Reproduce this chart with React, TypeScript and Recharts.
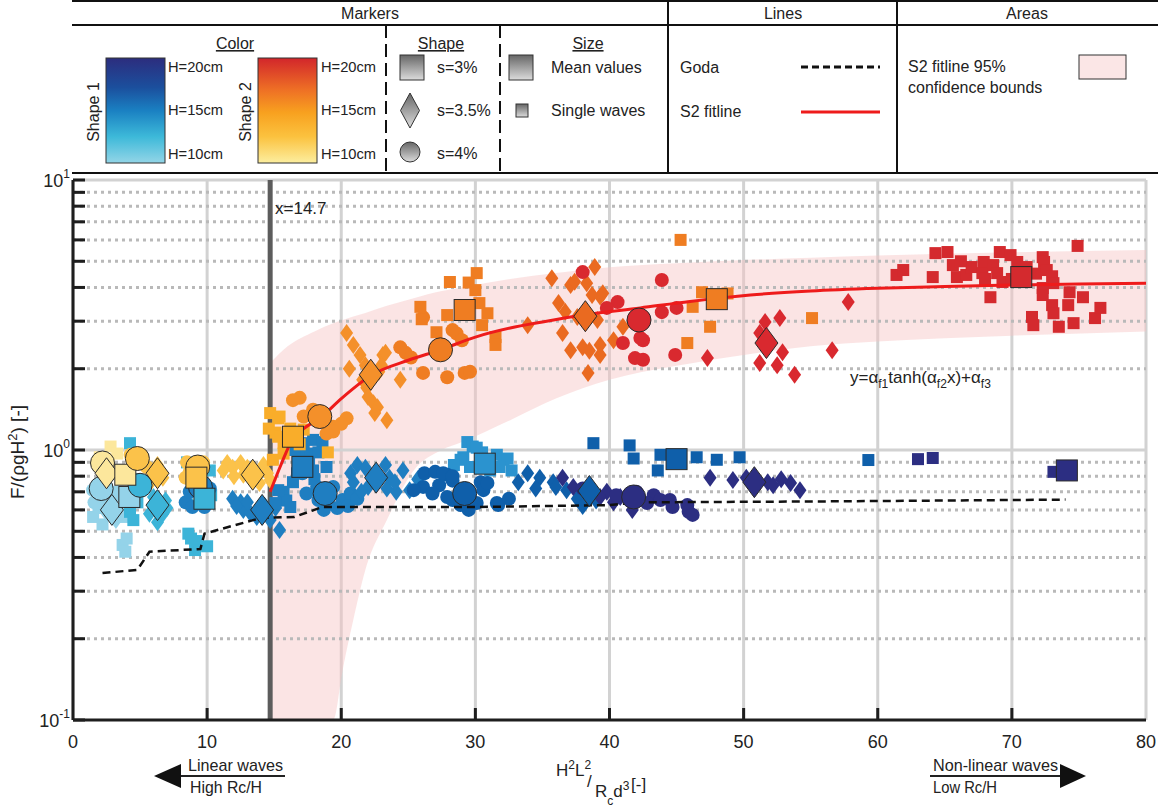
import React from 'react';
import {
  ComposedChart,
  Scatter,
  Line,
  Area,
  XAxis,
  YAxis,
  CartesianGrid,
  ReferenceLine
} from 'recharts';

type Pt = [number, number];

const FONT = "'Liberation Sans', Arial, sans-serif";
const NARROW = "'Liberation Sans Narrow', 'Arial Narrow', 'Liberation Sans', Arial, sans-serif";

// axis ticks
const xTicks = [0, 10, 20, 30, 40, 50, 60, 70, 80];
const yTicks = [0.1, 0.2, 0.3, 0.4, 0.5, 0.6, 0.7, 0.8, 0.9, 1, 2, 3, 4, 5, 6, 7, 8, 9, 10];
const yMajor = [1, 10];
const yMinor = [0.2, 0.3, 0.4, 0.5, 0.6, 0.7, 0.8, 0.9, 2, 3, 4, 5, 6, 7, 8, 9];
const thresholdX = 14.7;

// S2 fit line and its 95% confidence band
const fitLine: Pt[] = [
  [14.7, 0.7], [15.5, 0.88], [16.3, 1.08], [17.2, 1.2], [18.4, 1.31], [20, 1.55], [22.3, 1.9],
  [25, 2.15], [27.4, 2.35], [30, 2.62], [32.6, 2.83], [35, 2.98], [38, 3.16], [42.3, 3.36],
  [46, 3.55], [50.5, 3.75], [55, 3.88], [60, 3.97], [65, 4.03], [70, 4.08], [75, 4.12], [80, 4.15]
];
const bandX = [14.7, 16, 18, 19.4, 20.1, 20.9, 21.8, 23.4, 25.4, 27.5, 29, 32.6, 36, 40, 45, 50, 55, 60, 70, 80];
const bandLow = [0.1, 0.1, 0.1, 0.1, 0.153, 0.235, 0.36, 0.55, 0.84, 1.0, 1.07, 1.29, 1.55, 1.82, 2.05, 2.25, 2.42, 2.52, 2.65, 2.75];
const bandHigh = [2.1, 2.42, 2.75, 2.95, 3.03, 3.12, 3.22, 3.42, 3.65, 3.88, 4.0, 4.3, 4.52, 4.75, 4.92, 5.05, 5.15, 5.25, 5.4, 5.5];

// Goda prediction
const godaLine: Pt[] = [
  [2.2, 0.35], [4.8, 0.36], [5.7, 0.42], [9.5, 0.43], [9.8, 0.49], [14, 0.56], [16.5, 0.565],
  [18.6, 0.615], [30, 0.615], [40, 0.625], [42, 0.64], [56, 0.645], [74, 0.655]
];

// colour categories (shape + wave height)
const HUE: Record<string, string> = {
  b10: '#94d3e9', b12: '#3cb4d8', b14: '#2b93cf', b15: '#1f7ec1', b17: '#0f5faa', b20: '#2c2e82',
  y10: '#fce79c', y12: '#fbc24a', y15: '#f9ad2a', o16: '#f4902a', o17: '#ef7d22', o18: '#ea6a20',
  r19: '#d9292f', r20: '#d42a2e'
};

// single waves
const b10Squares: Pt[] = [[1.9, 0.61], [1.5, 0.565], [2.2, 0.53], [3.5, 0.6], [3.8, 0.565], [3.7, 0.445], [3.9, 0.42], [4.0, 0.47], [3.3, 0.7]];
const b10Circles: Pt[] = [[1.5, 0.71], [1.6, 0.64], [2.5, 0.66], [3.2, 0.68]];
const b10Diamonds: Pt[] = [[2.5, 0.585], [3.2, 0.55]];
const b12Squares: Pt[] = [[4.25, 1.06], [4.8, 0.64], [4.25, 0.59], [4.5, 0.55], [8.5, 0.9], [10.2, 0.84], [8.6, 0.49], [9.2, 0.46], [9.1, 0.426], [10, 0.44], [8.8, 0.47], [10.3, 0.68], [4.6, 0.7]];
const b12Circles: Pt[] = [[4.8, 0.774], [5.1, 0.73], [5.4, 0.76], [8.5, 0.64]];
const b12Diamonds: Pt[] = [[6.0, 0.67], [6.9, 0.65], [5.7, 0.58], [6.7, 0.58], [6.3, 0.54], [7.0, 0.61]];
const b15Circles: Pt[] = [
  [8.4, 0.64], [8.9, 0.615], [9.8, 0.615], [10, 0.67], [8.7, 0.7], [10.2, 0.72],
  [18.2, 0.73], [19.4, 0.73], [20.1, 0.653], [19.7, 0.61], [18.3, 0.653], [17.4, 0.69], [20.7, 0.69],
  [17.1, 0.82], [19.0, 0.63], [20.5, 0.62], [21.2, 0.66], [18.7, 0.6]
];
const b15Diamonds: Pt[] = [
  [11.9, 0.66], [12.5, 0.64], [12.7, 0.6], [13.2, 0.585], [13.7, 0.565], [14.7, 0.55], [15.1, 0.61],
  [14.3, 0.62], [15.4, 0.506], [12.2, 0.62], [13.0, 0.64],
  [20.7, 0.82], [21.2, 0.88], [21.8, 0.86], [22.3, 0.79], [23.3, 0.88], [23.6, 0.79], [24.6, 0.84],
  [20.9, 0.76], [22.0, 0.73], [23.4, 0.72], [24.1, 0.7], [25.1, 0.71], [25.7, 0.78], [21.5, 0.7], [24.0, 0.76]
];
const b15Squares: Pt[] = [
  [17.2, 1.06], [17.9, 1.09], [18.6, 1.07], [17.5, 0.97], [18.3, 0.98], [16.7, 0.82], [16.4, 0.76],
  [15.7, 0.7], [15.9, 0.65], [16.2, 0.615], [17.9, 0.84], [18.9, 0.865], [15.1, 0.636], [15.3, 0.71],
  [16.8, 0.95], [17.6, 0.9], [16.5, 1.0], [18.0, 0.78]
];
const b14Squares: Pt[] = [
  [29.4, 1.07], [29.8, 1.03], [30.5, 0.98], [31.6, 0.96], [32.1, 0.92], [29.1, 0.94], [29.6, 0.865],
  [31.1, 0.84], [32.4, 0.93], [32.7, 0.84], [31.8, 0.865], [28.9, 0.92], [30.1, 1.02], [28.4, 0.88]
];
const b17Circles: Pt[] = [
  [26.2, 0.82], [27, 0.83], [27.9, 0.81], [26.1, 0.73], [27.3, 0.74], [28.3, 0.77], [30.4, 0.76],
  [30.6, 0.71], [31.6, 0.636], [30.1, 0.636], [25.4, 0.71], [28.3, 0.653], [27.6, 0.82], [28.3, 0.8],
  [27.9, 0.67], [30.9, 0.755], [31.7, 0.625], [28.9, 0.625], [26.8, 0.69], [32.5, 0.66], [29.5, 0.6]
];
const b17Diamonds: Pt[] = [[33.9, 0.82], [34.8, 0.79], [35.8, 0.76], [36, 0.73], [36.8, 0.71], [37.6, 0.66], [33.2, 0.76], [34.5, 0.72], [39, 0.65], [38, 0.62]];
const b17Squares: Pt[] = [[38.8, 1.06], [41.5, 1.04], [41.8, 0.93], [43.8, 0.96], [43.6, 0.84], [46.5, 0.94], [48.0, 0.92], [49.7, 0.94], [59.3, 0.918]];
const b20Diamonds: Pt[] = [
  [36.5, 0.79], [37.3, 0.73], [39.8, 0.7], [40.8, 0.67], [41.7, 0.6], [40.3, 0.64], [39.3, 0.67], [38.5, 0.68],
  [47.5, 0.79], [49.2, 0.774], [51.8, 0.76], [52.2, 0.74], [53.5, 0.755], [54.2, 0.71], [50.2, 0.79], [52.8, 0.78]
];
const b20Circles: Pt[] = [
  [43.3, 0.68], [43.8, 0.653], [44.5, 0.653], [44.7, 0.615], [42.8, 0.636], [45.8, 0.625], [45.9, 0.59],
  [46.2, 0.575], [40.5, 0.68], [42, 0.7], [38, 0.72]
];
const b20Squares: Pt[] = [[63, 0.925], [64.1, 0.934], [73.1, 0.83]];

const y10Squares: Pt[] = [[2.8, 1.03], [2.0, 0.94], [3.3, 0.97]];
const y10Circles: Pt[] = [[2.6, 0.92]];
const y12Circles: Pt[] = [[4.6, 0.9], [5.5, 0.865], [8.5, 0.9], [8.7, 0.83], [9.7, 0.9], [8.4, 0.79], [4.3, 0.96]];
const y12Diamonds: Pt[] = [
  [6.3, 0.88], [5.9, 0.774], [6.7, 0.79], [11.5, 0.895], [11.9, 0.86], [12.5, 0.895], [12.7, 0.81],
  [14.2, 0.88], [14.5, 0.82], [14.7, 0.774], [13.9, 0.755], [12.0, 0.8], [11.2, 0.84], [13.0, 0.86]
];
const y15Squares: Pt[] = [
  [14.7, 1.37], [15.3, 1.31], [15.1, 1.16], [15.7, 1.06], [15.7, 0.97], [19, 0.98], [17.2, 1.19],
  [15.4, 1.33], [15.3, 1.12], [16.2, 1.2], [14.9, 0.92], [16.9, 1.05], [14.6, 1.2]
];
const o16Circles: Pt[] = [[16.9, 1.56], [17.2, 1.33], [19.4, 1.22], [20.4, 1.31], [20, 1.25], [19.4, 1.17], [17.9, 1.41], [16.4, 1.53], [18.9, 1.15]];
const o16Diamonds: Pt[] = [
  [20.4, 2.71], [20.9, 2.45], [21.4, 2.25], [21.8, 2.06], [23.1, 2.25], [23, 2.06], [22.8, 1.95],
  [24.4, 1.82], [21.6, 1.82], [21.9, 1.7], [22, 1.57], [22.4, 1.49], [22.7, 1.44], [22.5, 1.37],
  [23.4, 1.29], [23.3, 2.29], [20.6, 2.0]
];
const o17Circles: Pt[] = [
  [24.4, 2.4], [24.8, 2.29], [26.1, 3.1], [26.1, 1.93], [27.9, 1.86], [29.2, 1.93], [29.6, 1.95],
  [28.3, 2.78], [28.6, 2.7], [29, 2.55], [25.2, 2.2]
];
const o17Squares: Pt[] = [
  [25.9, 3.39], [27.9, 3.16], [27.1, 2.73], [30.9, 3.21], [30.5, 2.9], [31.5, 2.62], [31.5, 2.45],
  [28.1, 4.19], [30.1, 4.52], [29.5, 4.17], [30, 3.91], [26.0, 3.05], [30.3, 3.5],
  [45.3, 6.0], [46.2, 3.39], [46.9, 3.84], [48.8, 3.8], [47.5, 2.86], [45.8, 2.49], [55.1, 3.08]
];
const o18Diamonds: Pt[] = [
  [33.9, 2.9], [35.7, 4.33], [37.1, 4.08], [37.4, 4.2], [38.9, 4.76], [38.3, 4.15], [38.7, 3.75],
  [39.3, 3.7], [39.5, 3.81], [36.7, 3.25], [36.5, 2.71], [37.1, 2.34], [38, 2.4], [38.5, 2.33],
  [39.3, 2.45], [39.3, 2.25], [38.4, 1.93], [40.3, 2.55], [41, 2.86], [37.6, 3.11], [39.1, 3.03], [36.2, 3.5]
];
const r19Circles: Pt[] = [
  [38, 4.56], [40.6, 3.53], [39.8, 3.36], [42.5, 2.55], [41, 2.49], [42.3, 2.6], [41.9, 2.19],
  [42.5, 2.16], [43.9, 4.26], [43.9, 3.24], [45, 3.36], [44.9, 2.25]
];
const r19Diamonds: Pt[] = [[47.3, 2.19], [51.6, 2.98], [52.7, 3.08], [51.2, 2.71], [51.2, 2.1], [52.5, 2.06], [53.8, 1.9], [56.6, 2.34], [57.8, 3.53], [52.9, 2.3]];
const r20Squares: Pt[] = [
  [61.4, 4.45], [61.9, 4.64], [64.3, 5.36], [65.2, 5.41], [64.1, 4.37], [65.6, 4.84], [65.9, 4.37],
  [66.6, 4.45], [67, 4.76], [67.9, 4.97], [67.8, 4.52], [68.6, 4.84], [69.1, 5.41], [68.9, 4.52],
  [69.9, 5.27], [68.4, 3.68], [69.3, 4.19], [70.4, 4.97], [71.1, 4.76], [71.8, 4.5], [72.3, 5.18],
  [72.4, 4.97], [72.6, 4.64], [73, 4.4], [73.1, 4.15], [72.3, 3.98], [72.3, 3.75], [73, 3.44],
  [73.1, 3.21], [71.5, 3.11], [71.6, 2.9], [73.5, 2.86], [74.3, 3.84], [74.2, 3.44], [74.6, 2.95],
  [75.3, 3.68], [76.2, 3.08], [76.6, 3.36], [74.9, 5.7], [66.2, 5.0], [70.0, 4.3], [68.0, 4.3]
];

// mean values per test series: [x, y, colour category, shape]
const meanValues: [number, number, string, string][] = [
  [2.1, 0.72, 'b10', 'ci'], [2.9, 0.6, 'b10', 'di'], [4.2, 0.67, 'b10', 'sq'],
  [5.0, 0.74, 'b12', 'ci'], [6.3, 0.625, 'b12', 'di'], [9.5, 0.73, 'b15', 'ci'], [9.8, 0.66, 'b12', 'sq'],
  [2.2, 0.895, 'y10', 'ci'], [2.5, 0.82, 'y10', 'di'], [3.9, 0.81, 'y10', 'sq'],
  [4.8, 0.93, 'y12', 'ci'], [6.3, 0.82, 'y12', 'di'], [9.3, 0.865, 'y12', 'ci'], [9.2, 0.79, 'y12', 'sq'],
  [13.4, 0.81, 'y12', 'di'], [14.1, 0.6, 'b15', 'di'],
  [16.4, 1.12, 'y15', 'sq'], [18.4, 1.33, 'o16', 'ci'], [22.2, 1.9, 'o16', 'di'],
  [27.4, 2.35, 'o17', 'ci'], [29.2, 3.3, 'o17', 'sq'],
  [17.1, 0.866, 'b15', 'sq'], [18.8, 0.69, 'b15', 'ci'], [22.6, 0.79, 'b15', 'di'],
  [29.2, 0.69, 'b17', 'ci'], [30.7, 0.89, 'b14', 'sq'], [38.5, 0.705, 'b17', 'di'],
  [41.8, 0.67, 'b20', 'ci'], [45.0, 0.925, 'b17', 'sq'], [50.8, 0.76, 'b20', 'di'], [74.1, 0.84, 'b20', 'sq'],
  [38.2, 3.13, 'o18', 'di'], [42.2, 3.03, 'r19', 'ci'], [48.0, 3.62, 'o17', 'sq'],
  [51.7, 2.49, 'r19', 'di'], [70.7, 4.37, 'r20', 'sq']
];

const singleSeries: { h: string; s: string; pts: Pt[] }[] = [
  { h: 'b10', s: 'sq', pts: b10Squares }, { h: 'b10', s: 'ci', pts: b10Circles }, { h: 'b10', s: 'di', pts: b10Diamonds },
  { h: 'b12', s: 'sq', pts: b12Squares }, { h: 'b12', s: 'ci', pts: b12Circles }, { h: 'b12', s: 'di', pts: b12Diamonds },
  { h: 'b15', s: 'ci', pts: b15Circles }, { h: 'b15', s: 'di', pts: b15Diamonds }, { h: 'b15', s: 'sq', pts: b15Squares },
  { h: 'b14', s: 'sq', pts: b14Squares }, { h: 'b17', s: 'ci', pts: b17Circles }, { h: 'b17', s: 'di', pts: b17Diamonds },
  { h: 'b17', s: 'sq', pts: b17Squares }, { h: 'b20', s: 'di', pts: b20Diamonds }, { h: 'b20', s: 'ci', pts: b20Circles },
  { h: 'b20', s: 'sq', pts: b20Squares },
  { h: 'y10', s: 'sq', pts: y10Squares }, { h: 'y10', s: 'ci', pts: y10Circles }, { h: 'y12', s: 'ci', pts: y12Circles },
  { h: 'y12', s: 'di', pts: y12Diamonds }, { h: 'y15', s: 'sq', pts: y15Squares }, { h: 'o16', s: 'ci', pts: o16Circles },
  { h: 'o16', s: 'di', pts: o16Diamonds }, { h: 'o17', s: 'ci', pts: o17Circles }, { h: 'o17', s: 'sq', pts: o17Squares },
  { h: 'o18', s: 'di', pts: o18Diamonds }, { h: 'r19', s: 'ci', pts: r19Circles }, { h: 'r19', s: 'di', pts: r19Diamonds },
  { h: 'r20', s: 'sq', pts: r20Squares }
];

const toXY = (pts: Pt[]) => pts.map(([x, y]) => ({ x, y }));
const bandData = bandX.map((x, i) => ({ x, lo: bandLow[i], hi: bandHigh[i] }));
const meanData = meanValues.map(([x, y, h, s]) => ({ x, y, h, s }));

const drawMarker = (cx: number, cy: number, kind: string, color: string, big: boolean) => {
  const stroke = big ? '#2a2a2a' : 'none';
  if (kind === 'sq') {
    const a = big ? 10.5 : 6;
    return <rect x={cx - a} y={cy - a} width={2 * a} height={2 * a} fill={color} stroke={stroke} strokeWidth={1} />;
  }
  if (kind === 'di') {
    const w = big ? 11.5 : 6.5;
    const h = big ? 15.5 : 9;
    return (
      <path
        d={`M${cx},${cy - h}L${cx + w},${cy}L${cx},${cy + h}L${cx - w},${cy}Z`}
        fill={color}
        stroke={stroke}
        strokeWidth={1}
      />
    );
  }
  return <circle cx={cx} cy={cy} r={big ? 12 : 7} fill={color} stroke={stroke} strokeWidth={1} />;
};

const singleShape = (kind: string, color: string) => (props: any) => {
  const { cx, cy } = props;
  if (cx == null || cy == null) return <g />;
  return drawMarker(cx, cy, kind, color, false);
};

const meanShape = (props: any) => {
  const { cx, cy, payload } = props;
  if (cx == null || cy == null || !payload) return <g />;
  return drawMarker(cx, cy, payload.s, HUE[payload.h], true);
};

const YTick = (props: any) => {
  const { x, y, payload } = props;
  const e = Math.log10(payload.value);
  const major = Math.abs(e - Math.round(e)) < 1e-6;
  return (
    <g>
      <line x1={x} x2={x + 12} y1={y} y2={y} stroke="#1e1e1e" strokeWidth={3} />
      {major && (
        <text x={x - 3} y={y + 7} textAnchor="end" fontSize={18} fontFamily={NARROW} fill="#222">
          10<tspan dy={-9} fontSize={12}>{Math.round(e)}</tspan>
        </text>
      )}
    </g>
  );
};

const XTick = (props: any) => {
  const { x, y, payload } = props;
  const v = payload.value;
  return (
    <g>
      {v > 0 && v < 80 && <line x1={x} x2={x} y1={y} y2={y - 12} stroke="#1e1e1e" strokeWidth={3} />}
      <text x={x} y={y + 28} textAnchor="middle" fontSize={18} fontFamily={NARROW} fill="#222">
        {v}
      </text>
    </g>
  );
};

const LegendTable = () => (
  <svg width={1158} height={180} style={{ position: 'absolute', left: 0, top: 0 }} fontFamily={FONT}>
    <defs>
      <linearGradient id="iconGray" x1="0" y1="0" x2="0" y2="1">
        <stop offset="0%" stopColor="#666" />
        <stop offset="100%" stopColor="#dcdcdc" />
      </linearGradient>
      <linearGradient id="shape1Bar" x1="0" y1="0" x2="0" y2="1">
        <stop offset="0%" stopColor="#2c2d7e" />
        <stop offset="28%" stopColor="#1b4f9d" />
        <stop offset="50%" stopColor="#1a80c2" />
        <stop offset="75%" stopColor="#3db9d9" />
        <stop offset="100%" stopColor="#93d5e7" />
      </linearGradient>
      <linearGradient id="shape2Bar" x1="0" y1="0" x2="0" y2="1">
        <stop offset="0%" stopColor="#d2262b" />
        <stop offset="30%" stopColor="#ee6f25" />
        <stop offset="52%" stopColor="#f8a11f" />
        <stop offset="75%" stopColor="#fbc23f" />
        <stop offset="100%" stopColor="#fcee9f" />
      </linearGradient>
    </defs>
    <line x1={72} x2={1158} y1={1} y2={1} stroke="#111" strokeWidth={2} />
    <line x1={72} x2={1158} y1={25} y2={25} stroke="#111" strokeWidth={2} />
    <line x1={72} x2={1158} y1={173} y2={173} stroke="#111" strokeWidth={2} />
    <line x1={668} x2={668} y1={1} y2={173} stroke="#111" strokeWidth={2} />
    <line x1={897} x2={897} y1={1} y2={173} stroke="#111" strokeWidth={2} />
    <line x1={386} x2={386} y1={25} y2={173} stroke="#111" strokeWidth={2} strokeDasharray="13 6" />
    <line x1={500} x2={500} y1={25} y2={173} stroke="#111" strokeWidth={2} strokeDasharray="13 6" />

    <g fontSize={16} fill="#222">
      <text x={370} y={19} textAnchor="middle">Markers</text>
      <text x={783} y={19} textAnchor="middle">Lines</text>
      <text x={1027} y={19} textAnchor="middle">Areas</text>

      <text x={235} y={49} textAnchor="middle" textDecoration="underline">Color</text>
      <rect x={106} y={58} width={59} height={105} fill="url(#shape1Bar)" stroke="#333" strokeWidth={1} />
      <text transform="rotate(-90 99 112)" x={99} y={112} textAnchor="middle">Shape 1</text>
      <rect x={258} y={58} width={59} height={105} fill="url(#shape2Bar)" stroke="#333" strokeWidth={1} />
      <text transform="rotate(-90 251 112)" x={251} y={112} textAnchor="middle">Shape 2</text>
      <g fontSize={14.7}>
        <text x={168} y={72}>H=20cm</text>
        <text x={168} y={115}>H=15cm</text>
        <text x={168} y={159}>H=10cm</text>
        <text x={321} y={72}>H=20cm</text>
        <text x={321} y={115}>H=15cm</text>
        <text x={321} y={159}>H=10cm</text>
      </g>

      <text x={441} y={49} textAnchor="middle" textDecoration="underline">Shape</text>
      <rect x={400} y={55} width={24} height={25} fill="url(#iconGray)" stroke="#333" strokeWidth={1} />
      <text x={437} y={73}>s=3%</text>
      <path d="M410,93L419.5,110.5L410,128L400.5,110.5Z" fill="url(#iconGray)" stroke="#333" strokeWidth={1} />
      <text x={437} y={116}>s=3.5%</text>
      <circle cx={410} cy={152} r={10} fill="url(#iconGray)" stroke="#333" strokeWidth={1} />
      <text x={437} y={159}>s=4%</text>

      <text x={588} y={49} textAnchor="middle" textDecoration="underline">Size</text>
      <rect x={509} y={55} width={24} height={25} fill="url(#iconGray)" stroke="#333" strokeWidth={1} />
      <text x={551} y={73}>Mean values</text>
      <rect x={516} y={104} width={12} height={13} fill="url(#iconGray)" stroke="#333" strokeWidth={1} />
      <text x={551} y={116}>Single waves</text>

      <text x={680} y={73}>Goda</text>
      <line x1={801} x2={880} y1={67} y2={67} stroke="#111" strokeWidth={3} strokeDasharray="7 4" />
      <text x={680} y={117}>S2 fitline</text>
      <line x1={801} x2={880} y1={112} y2={112} stroke="#ee1b1b" strokeWidth={3} />

      <text x={908} y={72}>S2 fitline 95%</text>
      <text x={908} y={93}>confidence bounds</text>
      <rect x={1079} y={55} width={47} height={24} fill="#fbe6e6" stroke="#333" strokeWidth={1} />
    </g>
  </svg>
);

const Annotations = () => (
  <svg
    width={1158}
    height={807}
    style={{ position: 'absolute', left: 0, top: 0, pointerEvents: 'none' }}
    fontFamily={FONT}
    fill="#222"
  >
    <text x={275} y={214} fontSize={17}>x=14.7</text>
    <text x={850} y={383} fontSize={17}>
      y=<tspan>α</tspan><tspan fontSize={12} dy={5}>f1</tspan>
      <tspan dy={-5}>tanh(</tspan><tspan>α</tspan><tspan fontSize={12} dy={5}>f2</tspan>
      <tspan dy={-5}>x)+</tspan><tspan>α</tspan><tspan fontSize={12} dy={5}>f3</tspan>
    </text>

    <text transform="rotate(-90 24 452)" x={24} y={452} textAnchor="middle" fontSize={19}>
      F/(ρgH<tspan dy={-7} fontSize={13}>2</tspan><tspan dy={7}>) [-]</tspan>
    </text>

    <g fontFamily={NARROW} fontSize={17}>
      <text x={556} y={776}>
        H<tspan dy={-7} fontSize={12}>2</tspan><tspan dy={7}>L</tspan><tspan dy={-7} fontSize={12}>2</tspan>
      </text>
      <text x={587} y={787}>/</text>
      <text x={595} y={797}>
        R<tspan dy={8} fontSize={12}>c</tspan><tspan dy={-8}>d</tspan><tspan dy={-7} fontSize={12}>3</tspan>
      </text>
      <text x={631} y={790}>[-]</text>

      <text x={188} y={771} textLength={95} lengthAdjust="spacingAndGlyphs">Linear waves</text>
      <text x={190} y={793} textLength={72} lengthAdjust="spacingAndGlyphs">High Rc/H</text>
      <line x1={178} x2={285} y1={776} y2={776} stroke="#222" strokeWidth={2} />
      <path d="M154,776L181,764L181,788Z" fill="#111" />

      <text x={933} y={771} textLength={125} lengthAdjust="spacingAndGlyphs">Non-linear waves</text>
      <text x={933} y={793} textLength={64} lengthAdjust="spacingAndGlyphs">Low Rc/H</text>
      <line x1={930} x2={1063} y1={776} y2={776} stroke="#222" strokeWidth={2} />
      <path d="M1086,776L1060,764L1060,788Z" fill="#111" />
    </g>
  </svg>
);

export default function App() {
  return (
    <div style={{ position: 'absolute', left: 0, top: 0, width: 1158, height: 807, background: '#fff' }}>
      <ComposedChart width={1158} height={807} margin={{ top: 180, right: 12, bottom: 47, left: 13 }}>
        <CartesianGrid horizontal={false} stroke="#d2d2d2" strokeWidth={3} strokeDasharray="" />
        <XAxis
          type="number"
          dataKey="x"
          domain={[0, 80]}
          ticks={xTicks}
          interval={0}
          height={40}
          tickSize={0}
          tickMargin={0}
          tick={<XTick />}
          axisLine={{ stroke: '#1e1e1e', strokeWidth: 3 }}
          allowDataOverflow
        />
        <YAxis
          type="number"
          dataKey="y"
          scale="log"
          domain={[0.1, 10]}
          ticks={yTicks}
          interval={0}
          width={60}
          tickSize={0}
          tickMargin={0}
          tick={<YTick />}
          axisLine={{ stroke: '#1e1e1e', strokeWidth: 3 }}
          allowDataOverflow
        />
        <Area
          data={bandData}
          dataKey={(d: any) => [d.lo, d.hi]}
          type="monotone"
          stroke="none"
          fill="#f7c3c3"
          fillOpacity={0.45}
          isAnimationActive={false}
          zIndex={100}
        />
        {yMajor.map((v) => (
          <ReferenceLine key={`maj${v}`} y={v} stroke="#d2d2d2" strokeWidth={3} zIndex={150} />
        ))}
        {yMinor.map((v) => (
          <ReferenceLine key={`min${v}`} y={v} stroke="#b9b9b9" strokeWidth={3} strokeDasharray="3 4" zIndex={150} />
        ))}
        <ReferenceLine x={thresholdX} stroke="#5c5c5c" strokeWidth={5} zIndex={160} />
        {singleSeries.map((g, i) => (
          <Scatter
            key={`single${i}`}
            data={toXY(g.pts)}
            shape={singleShape(g.s, HUE[g.h])}
            isAnimationActive={false}
            zIndex={600}
          />
        ))}
        <Line
          data={toXY(godaLine)}
          dataKey="y"
          type="linear"
          stroke="#111"
          strokeWidth={2.5}
          strokeDasharray="8 5"
          dot={false}
          activeDot={false}
          isAnimationActive={false}
          zIndex={650}
        />
        <Line
          data={toXY(fitLine)}
          dataKey="y"
          type="monotone"
          stroke="#ee1b1b"
          strokeWidth={3}
          dot={false}
          activeDot={false}
          isAnimationActive={false}
          zIndex={650}
        />
        <Scatter data={meanData} shape={meanShape} isAnimationActive={false} zIndex={700} />
      </ComposedChart>
      <LegendTable />
      <Annotations />
    </div>
  );
}
